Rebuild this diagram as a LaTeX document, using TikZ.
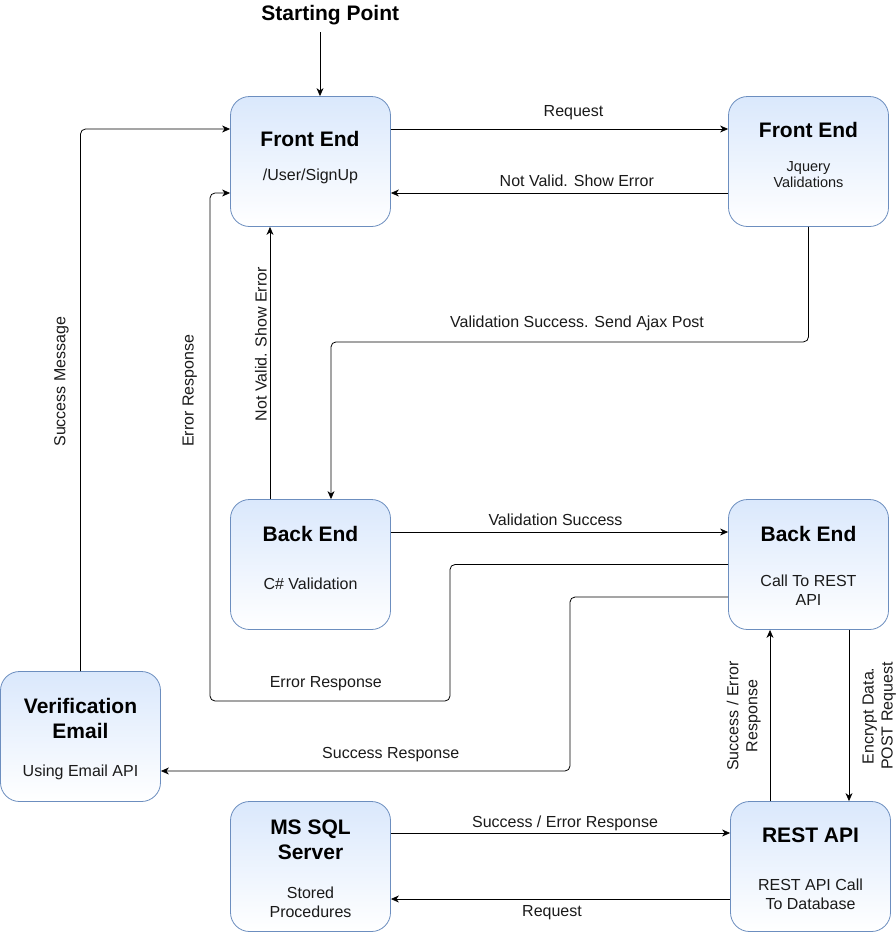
\documentclass[tikz,border=0pt]{standalone}
\usepackage{fontspec}
\setmainfont{Liberation Sans}
\usetikzlibrary{arrows.meta}
\definecolor{boxtop}{HTML}{DAE8FC}
\definecolor{boxline}{HTML}{6C8EBF}
\definecolor{subtxt}{HTML}{1A1A1A}
\tikzset{
 box/.style={rectangle, rounded corners=19pt, minimum width=160pt, minimum height=130pt, inner sep=0pt, draw=boxline, line width=0.8pt, top color=boxtop, bottom color=white},
 conn/.style={draw=black, line width=0.8pt, rounded corners=5pt, -{Stealth[length=8pt,width=7pt,inset=2.5pt]}},
 lbl/.style={font=\fontsize{16}{19}\selectfont, inner sep=0pt, text height=11pt, text depth=0pt, text=subtxt},
 ttl/.style={font=\bfseries\fontsize{21}{25}\selectfont, inner sep=0pt, text height=14.4pt, text depth=0pt},
 mlbl/.style={font=\fontsize{16}{19}\selectfont, inner sep=0pt, align=center, anchor=north, text=subtxt},
 slbl/.style={font=\fontsize{14.5}{16.1}\selectfont, inner sep=0pt, align=center, anchor=north, text=subtxt},
 mttl/.style={font=\bfseries\fontsize{21}{25}\selectfont, inner sep=0pt, align=center, anchor=north},
}
\begin{document}
\begin{tikzpicture}[x=1pt,y=-1pt]
\useasboundingbox (0,0) rectangle (896,932);

% boxes
\node[box] (fe1) at (310.5,161.5) {};
\node[box] (fe2) at (808.5,161.5) {};
\node[box] (be1) at (310.5,564.5) {};
\node[box] (be2) at (808.5,564.5) {};
\node[box] (ve) at (80.5,736.5) {};
\node[box] (sql) at (310.5,866.5) {};
\node[box] (rest) at (810.5,866.5) {};

% box texts
\node[ttl] (start) at (330.3,13.3) {Starting Point};
\node[ttl] (fe1t) at (310,139) {Front End};
\node[lbl] (fe1s) at (310.5,174.5) {/User/SignUp};
\node[ttl] (fe2t) at (808.5,130.5) {Front End};
\node[slbl] (fe2s) at (808.5,161.7) {Jquery\\Validations};
\node[ttl] (be1t) at (310.5,534) {Back End};
\node[lbl] (be1s) at (310.5,584) {C\# Validation};
\node[ttl] (be2t) at (808.5,534) {Back End};
\node[mlbl] (be2s) at (808.5,574.4) {Call To REST\\API};
\node[mttl] (vet) at (80.5,698) {Verification\\Email};
\node[lbl] (ves) at (80.5,771) {Using Email API};
\node[mttl] (sqlt) at (310.5,819.8) {MS SQL\\Server};
\node[mlbl] (sqls) at (310.5,886.4) {Stored\\Procedures};
\node[ttl] (restt) at (810.5,835.5) {REST API};
\node[mlbl] (rests) at (810.5,878.9) {REST API Call\\To Database};

% connectors
\draw[conn] ([xshift=9.5pt]fe1.north |- 0,32) -- ([xshift=9.5pt]fe1.north);
\draw[conn] ([yshift=32.5pt]fe1.east) -- ([yshift=32.5pt]fe2.west);
\draw[conn] ([yshift=-31.5pt]fe2.west) -- ([yshift=-31.5pt]fe1.east);
\draw[conn] (fe2.south) -- ++(0,115) -| ([xshift=20.5pt]be1.north);
\draw[conn] ([xshift=-40.5pt]be1.north) -- ([xshift=-40.5pt]fe1.south);
\draw[conn] ([yshift=32.5pt]be1.east) -- ([yshift=32.5pt]be2.west);
\draw[conn] (be2.west) -| (450,701) -| (210,193) -- ([yshift=-31.5pt]fe1.west);
\draw[conn] ([yshift=-32.5pt]be2.west) -| (570,771) -- ([yshift=-34.5pt]ve.east);
\draw[conn] (ve.north) |- ([yshift=32.5pt]fe1.west);
\draw[conn] ([xshift=-40.5pt]rest.north) -- ([xshift=-40.5pt]rest.north |- be2.south);
\draw[conn] ([xshift=40.5pt]be2.south) -- ([xshift=40.5pt]be2.south |- rest.north);
\draw[conn] ([yshift=33.5pt]sql.east) -- ([yshift=33.5pt]rest.west);
\draw[conn] ([yshift=-32.5pt]rest.west) -- ([yshift=-32.5pt]sql.east);

% connector labels
\node[lbl] (l1) at (573.5,111) {Request};
\node[lbl] (l2) at (576.8,181) {Not Valid. Show Error};
\node[lbl] (l3) at (577,322) {Validation Success. Send Ajax Post};
\node[lbl, rotate=90] (l4) at (261.2,344.2) {Not Valid. Show Error};
\node[lbl, rotate=90] (l5) at (188.2,390.8) {Error Response};
\node[lbl, rotate=90] (l6) at (59.8,381.7) {Success Message};
\node[lbl] (l7) at (555.5,520) {Validation Success};
\node[lbl] (l8) at (325.8,682) {Error Response};
\node[lbl] (l9) at (390.7,752.5) {Success Response};
\node[mlbl, rotate=90] (l10) at (726.6,716) {Success / Error\\Response};
\node[mlbl, rotate=90] (l11) at (862.5,716) {Encrypt Data.\\POST Request};
\node[lbl] (l12) at (565,822) {Success / Error Response};
\node[lbl] (l13) at (552,911) {Request};
\end{tikzpicture}
\end{document}
